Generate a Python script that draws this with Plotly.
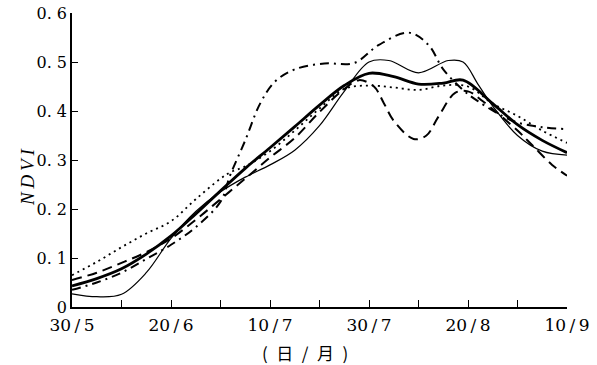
import plotly.graph_objects as go

# x positions in "label units": 0=30/5, 1=20/6, 2=10/7, 3=30/7, 4=20/8, 5=10/9
tick_vals = [0, 1, 2, 3, 4, 5]
tick_text = ["30/5", "20/6", "10/7", "30/7", "20/8", "10/9"]
y_tick_vals = [0, 0.1, 0.2, 0.3, 0.4, 0.5, 0.6]
y_tick_text = ["0", "0. 1", "0. 2", "0. 3", "0. 4", "0. 5", "0. 6"]

thick_x = [0, 0.25, 0.5, 0.75, 1, 1.25, 1.5, 1.75, 2, 2.25, 2.5, 2.75, 3, 3.25, 3.5, 3.75, 3.95, 4.25, 4.5, 4.75, 5]
thick_y = [0.043, 0.058, 0.078, 0.108, 0.145, 0.19, 0.237, 0.283, 0.325, 0.368, 0.412, 0.452, 0.477, 0.470, 0.455, 0.457, 0.463, 0.415, 0.372, 0.340, 0.315]

thin_x = [0, 0.25, 0.5, 0.75, 1, 1.25, 1.5, 1.75, 2, 2.25, 2.5, 2.75, 3, 3.2, 3.5, 3.8, 3.95, 4.1, 4.25, 4.5, 4.75, 5]
thin_y = [0.027, 0.021, 0.026, 0.07, 0.14, 0.195, 0.235, 0.265, 0.29, 0.32, 0.37, 0.44, 0.5, 0.503, 0.478, 0.503, 0.5, 0.455, 0.41, 0.35, 0.318, 0.31]

dashdot_x = [0, 0.25, 0.5, 0.75, 1, 1.25, 1.5, 1.6, 1.75, 1.9, 2.05, 2.25, 2.55, 2.85, 3.1, 3.4, 3.6, 3.75, 3.95, 4.1, 4.45, 4.75, 5]
dashdot_y = [0.035, 0.05, 0.07, 0.098, 0.127, 0.163, 0.215, 0.27, 0.34, 0.415, 0.46, 0.485, 0.497, 0.498, 0.535, 0.56, 0.535, 0.485, 0.443, 0.42, 0.38, 0.367, 0.363]

longdash_x = [0, 0.25, 0.5, 0.75, 1, 1.25, 1.5, 1.75, 2, 2.25, 2.5, 2.75, 2.9, 3.05, 3.15, 3.25, 3.45, 3.58, 3.7, 3.87, 4.0, 4.15, 4.5, 4.65, 4.85, 5]
longdash_y = [0.055, 0.07, 0.09, 0.112, 0.14, 0.178, 0.22, 0.262, 0.305, 0.345, 0.398, 0.445, 0.463, 0.45, 0.416, 0.38, 0.343, 0.35, 0.388, 0.437, 0.44, 0.42, 0.36, 0.33, 0.29, 0.268]

dotted_x = [0, 0.25, 0.5, 0.75, 1, 1.25, 1.5, 1.6, 1.75, 2, 2.25, 2.5, 2.75, 3, 3.25, 3.5, 3.75, 4, 4.25, 4.5, 4.75, 5]
dotted_y = [0.065, 0.092, 0.122, 0.15, 0.175, 0.22, 0.262, 0.275, 0.287, 0.318, 0.36, 0.405, 0.445, 0.452, 0.448, 0.443, 0.452, 0.45, 0.415, 0.39, 0.36, 0.335]

series = [
    (dotted_x, dotted_y, dict(color="black", width=1.8, dash="2px,4px")),
    (longdash_x, longdash_y, dict(color="black", width=2, dash="10px,6px")),
    (dashdot_x, dashdot_y, dict(color="black", width=2, dash="9px,5px,2px,5px")),
    (thin_x, thin_y, dict(color="black", width=1.2)),
    (thick_x, thick_y, dict(color="black", width=2.8)),
]

fig = go.Figure()
for xs, ys, ln in series:
    fig.add_trace(go.Scatter(x=xs, y=ys, mode="lines", line=dict(shape="spline", smoothing=1.0, **ln),
                             showlegend=False, hoverinfo="skip"))

serif = "DejaVu Serif, Liberation Serif, serif"
fig.update_layout(
    width=597, height=365,
    margin=dict(l=72, r=30, t=13, b=58),
    plot_bgcolor="white", paper_bgcolor="white",
    font=dict(family=serif, color="black", size=16),
    xaxis=dict(
        range=[0, 5], tickmode="array", tickvals=tick_vals,
        ticktext=[t.replace("/", "\u2009/\u2009") for t in tick_text],
        showgrid=False, zeroline=False, showline=True, linecolor="black", linewidth=1.5,
        ticks="inside", ticklen=7, tickwidth=1.2, tickcolor="black",
        tickfont=dict(family=serif, size=17), ticklabelstandoff=2,
        minor=dict(dtick=0.5, tick0=0, ticks="inside", ticklen=7, tickwidth=1.2, tickcolor="black", showgrid=False),
        automargin=False,
    ),
    yaxis=dict(
        range=[0, 0.6], tickmode="array", tickvals=y_tick_vals, ticktext=y_tick_text,
        showgrid=False, zeroline=False, showline=True, linecolor="black", linewidth=1.5,
        ticks="inside", ticklen=6, tickwidth=1.2, tickcolor="black",
        tickfont=dict(family=serif, size=16),
        automargin=False,
    ),
    annotations=[
        dict(text="(\u2002日\u2002/\u2002月\u2002)", xref="paper", yref="paper",
             x=(305 - 72) / 495, y=-45 / 294, xanchor="center", yanchor="middle",
             showarrow=False, font=dict(family="Noto Sans CJK SC", size=17, color="black")),
        dict(text="<i>N\u2009D\u2009V\u2009I</i>", xref="paper", yref="paper",
             x=-45 / 495, y=(307 - 177) / 294, xanchor="center", yanchor="middle", textangle=-90,
             showarrow=False, font=dict(family="Liberation Serif, serif", size=19, color="black")),
    ],
)

fig.write_html("out.html", config={"displayModeBar": False},
               post_script="document.body.style.margin='0';document.body.style.overflow='hidden';")
